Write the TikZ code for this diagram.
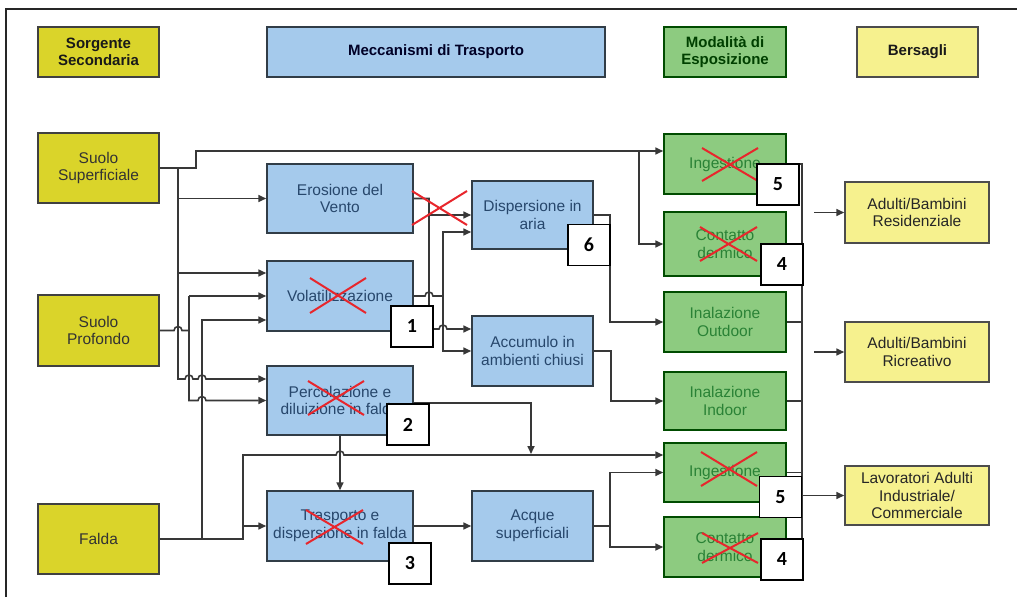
\documentclass[tikz,border=0pt]{standalone}
\usepackage{fontspec}
\setmainfont{Liberation Sans}
\newfontfamily\numfont{Carlito}
\usetikzlibrary{arrows.meta,calc}
\definecolor{srcY}{HTML}{DAD42A}
\definecolor{blueB}{HTML}{A5CAEC}
\definecolor{greenB}{HTML}{8DCB80}
\definecolor{tgtY}{HTML}{F6F18E}
\definecolor{lineC}{HTML}{383838}
\definecolor{txtBlue}{HTML}{27476C}
\definecolor{txtGreen}{HTML}{2A8236}
\definecolor{crossR}{HTML}{E8262C}
\begin{document}
\begin{tikzpicture}[x=1pt,y=-1pt,
  base/.style={draw, line width=1.5pt, align=center, inner sep=0pt, font=\fontsize{15.5}{17.7}\selectfont},
  src/.style={base, fill=srcY, draw=black!75, text=black!80},
  mech/.style={base, fill=blueB, draw=blueB!30!black, text=txtBlue},
  expo/.style={base, fill=greenB, draw=green!30!black, text=txtGreen},
  tgt/.style={base, fill=tgtY, draw=black!70, text=black!85},
  hdr/.style={font=\bfseries\fontsize{15}{17}\selectfont},
  num/.style={draw=black, fill=white, line width=1.3pt, minimum width=42pt, minimum height=41pt, inner sep=0pt, font=\numfont\bfseries\fontsize{20}{22}\selectfont},
  conn/.style={draw=lineC, line width=1.6pt},
  arr/.style={conn, -{Triangle[length=8pt,width=7pt]}},
  cross/.style={draw=crossR, line width=2pt},
  sz/.style 2 args={minimum width=#1pt, minimum height=#2pt}
]
\useasboundingbox (0,0) rectangle (1017,597);
\fill[white] (0,0) rectangle (1017,597);
\draw[line width=1.8pt, black!85] (6,597) -- (6,9) -- (1017,9);

% headers
\node[src,hdr,sz={121}{50},text=black!90] (hss) at (98.5,52) {Sorgente\\Secondaria};
\node[mech,hdr,sz={338}{50},text=black!85!blue] (hmt) at (436,52) {Meccanismi di Trasporto};
\node[expo,hdr,sz={122}{50},text=green!25!black] (hme) at (725,52) {Modalità di\\Esposizione};
\node[tgt,hdr,sz={121}{50},text=black!90] (hbe) at (917.5,52) {Bersagli};

% sources
\node[src,sz={121}{70}] (ss) at (98.5,168) {Suolo\\Superficiale};
\node[src,sz={121}{71}] (sp) at (98.5,330.5) {Suolo\\Profondo};
\node[src,sz={121}{70}] (fa) at (98.5,539) {Falda};

% transport mechanisms
\node[mech,sz={146}{69}] (er) at (340,198.5) {Erosione del\\Vento};
\node[mech,sz={146}{70}] (vo) at (340,296) {Volatilizzazione};
\node[mech,sz={146}{69}] (pe) at (340,400.5) {Percolazione e\\diluizione in falda};
\node[mech,sz={146}{70}] (tr) at (340,526) {Trasporto e\\dispersione in falda};
\node[mech,sz={121}{68}] (di) at (532.5,215) {Dispersione in\\aria};
\node[mech,sz={121}{70}] (ac) at (532.5,351) {Accumulo in\\ambienti chiusi};
\node[mech,sz={121}{70}] (aq) at (532.5,526) {Acque\\superficiali};

% exposure
\node[expo,sz={122}{60}] (g1) at (725,164) {Ingestione};
\node[expo,sz={122}{64}] (g2) at (725,244) {Contatto\\dermico};
\node[expo,sz={122}{60}] (g3) at (725,322) {Inalazione\\Outdoor};
\node[expo,sz={122}{58}] (g4) at (725,401) {Inalazione\\Indoor};
\node[expo,sz={122}{59}] (g5) at (725,472.5) {Ingestione};
\node[expo,sz={122}{60}] (g6) at (725,547) {Contatto\\dermico};

% targets
\node[tgt,sz={144}{61}] (t1) at (917,212.5) {Adulti/Bambini\\Residenziale};
\node[tgt,sz={144}{60}] (t2) at (917,352) {Adulti/Bambini\\Ricreativo};
\node[tgt,sz={144}{59}] (t3) at (917,495.5) {Lavoratori Adulti\\Industriale/\\Commerciale};

% connectors from sources
\coordinate (j1) at (639,151);
\draw[arr] (ss.east) -- (196,168) -- (196,151) -- ([yshift=13pt]g1.west);
\draw[arr] (j1) |- (g2.west);
\coordinate (b1) at (178,168);
\draw[arr] (b1) -- (178,379) -- (185,379) arc[start angle=180,end angle=360,radius=4] -- (198,379) arc[start angle=180,end angle=360,radius=4] -- ([yshift=21.5pt]pe.west);
\draw[arr] (178,198.5) -- (er.west);
\draw[arr] (178,273) -- ([yshift=23pt]vo.west);

\draw[conn] (sp.east) -- (174,330.5) arc[start angle=180,end angle=360,radius=4] -- (189,330.5);
\draw[arr] (189,296) -- (189,400.5) -- (198,400.5) arc[start angle=180,end angle=360,radius=4] -- (pe.west);
\draw[arr] (189,296) -- (vo.west);

\draw[arr] (fa.east) -- (243,539) -- (243,455) -- (336,455) arc[start angle=180,end angle=360,radius=4] -- ([yshift=17.5pt]g5.west);
\draw[arr] (243,526) -- (tr.west);
\draw[arr] (202,539) -- (202,320) -- ([yshift=-24pt]vo.west);

% transport connectors
\draw[arr] (pe.south) -- (tr.north);
\draw[arr] ([yshift=-2.5pt]pe.east) -- (531,403) -- (531,454);
\draw[arr] (tr.east) -- (aq.west);
\draw[conn] (aq.east) -- (610,526);
\draw[arr] (610,526) |- (g5.west);
\draw[arr] (610,526) |- (g6.west);

\draw[arr] (er.east) -- (429,198.5) -- (429,329) -- (439,329) arc[start angle=180,end angle=360,radius=4] -- ([yshift=22pt]ac.west);
\draw[arr] (429,215) -- (di.west);
\draw[conn] (vo.east) -- (425,296) arc[start angle=180,end angle=360,radius=4] -- (443,296);
\draw[arr] (443,296) |- ([yshift=-17pt]di.west);
\draw[arr] (443,296) |- (ac.west);

\draw[arr] (di.east) -- (610,215) |- (g3.west);
\draw[arr] (ac.east) -- (611,351) |- (g4.west);

% exposure bus to targets
\draw[conn] (802,164) -- (802,547);
\foreach \g in {g1,g2,g3,g4,g5,g6} {\draw[conn] (\g.east) -- ++(16,0);}
\draw[arr] (802,495.5) -- (t3.west);
\draw[arr] (814,212.5) -- (t1.west);
\draw[arr] (814,352) -- (t2.west);

% red crosses
\draw[cross] (412,191) -- (467,225) (412,225) -- (467,191);
\draw[cross] (310,278) -- (366,313) (310,313) -- (366,278);
\draw[cross] (308,381) -- (364,415) (308,415) -- (364,381);
\draw[cross] (306,510) -- (363,544) (306,544) -- (363,510);
\draw[cross] (702,148) -- (758,181) (702,181) -- (758,148);
\draw[cross] (700,227) -- (757,261) (700,261) -- (757,227);
\draw[cross] (701,452) -- (757,486) (701,486) -- (757,452);
\draw[cross] (702,533) -- (758,563) (702,563) -- (758,533);

% number boxes
\node[num] (n5a) at (778,184.5) {5};
\node[num] (n4a) at (782,264.5) {4};
\node[num] (n6) at (589,245) {6};
\node[num] (n1) at (412,326.5) {1};
\node[num] (n2) at (408,424.5) {2};
\node[num] (n3) at (410,563.5) {3};
\node[num] (n5b) at (780.5,497) {5};
\node[num] (n4b) at (782,559.5) {4};
\end{tikzpicture}
\end{document}
